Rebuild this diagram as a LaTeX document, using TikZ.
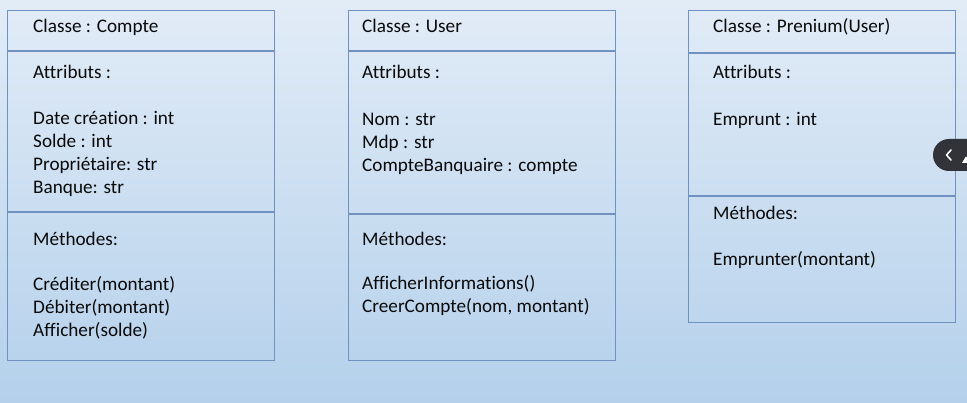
\documentclass[tikz,border=0pt]{standalone}
\usepackage{fontspec}
\setmainfont{Carlito}[Ligatures=NoCommon]
\usetikzlibrary{shapes.misc}
\definecolor{bgtop}{RGB}{226,236,247}
\definecolor{bgbot}{RGB}{180,208,235}
\definecolor{boxline}{RGB}{112,146,192}
\definecolor{btn}{RGB}{49,51,56}
\definecolor{txt}{RGB}{10,10,10}
\tikzset{
  classbox/.style={draw=boxline, line width=1.2pt, anchor=north west, inner sep=0pt, fill=none},
  sepline/.style={draw=boxline, line width=1.1pt},
  lbl/.style={anchor=base west, inner sep=0pt, text=txt, font=\fontsize{19.2}{23}\selectfont},
}
\begin{document}
\begin{tikzpicture}[x=1pt,y=-1pt]
\shade[top color=bgtop, bottom color=bgbot] (0,0) rectangle (967,403);
\useasboundingbox (0,0) rectangle (967,403);

% Box 1 : Compte
\node[classbox, minimum width=267pt, minimum height=350pt] (compte) at (7,10) {};
\coordinate (c1l) at (7,51); \coordinate (c1r) at (274,51);
\coordinate (c2l) at (7,212); \coordinate (c2r) at (274,212);
\draw[sepline] (c1l) -- (c1r);
\draw[sepline] (c2l) -- (c2r);
\node[lbl] (t11) at (33,32.5) {Classe : Compte};
\node[lbl] (t12) at (33,79) {Attributs :};
\node[lbl] (t13) at (33,125) {Date création : int};
\node[lbl] (t14) at (33,148) {Solde : int};
\node[lbl] (t15) at (33,171) {Propriétaire: str};
\node[lbl] (t16) at (33,194) {Banque: str};
\node[lbl] (t17) at (33,246) {Méthodes:};
\node[lbl] (t18) at (33,291) {Créditer(montant)};
\node[lbl] (t19) at (33,314) {Débiter(montant)};
\node[lbl] (t110) at (33,337) {Afficher(solde)};

% Box 2 : User
\node[classbox, minimum width=267pt, minimum height=350pt] (user) at (348,10) {};
\coordinate (u1l) at (348,51); \coordinate (u1r) at (615,51);
\coordinate (u2l) at (348,214); \coordinate (u2r) at (615,214);
\draw[sepline] (u1l) -- (u1r);
\draw[sepline] (u2l) -- (u2r);
\node[lbl] (t21) at (362,32.5) {Classe : User};
\node[lbl] (t22) at (362,79) {Attributs :};
\node[lbl] (t23) at (362,126) {Nom : str};
\node[lbl] (t24) at (362,149) {Mdp : str};
\node[lbl] (t25) at (362,172) {CompteBanquaire : compte};
\node[lbl] (t26) at (362,246) {Méthodes:};
\node[lbl] (t27) at (362,290) {AfficherInformations()};
\node[lbl] (t28) at (362,313) {CreerCompte(nom, montant)};

% Box 3 : Prenium
\node[classbox, minimum width=267pt, minimum height=312pt] (prenium) at (688,10) {};
\coordinate (p1l) at (688,53); \coordinate (p1r) at (955,53);
\coordinate (p2l) at (688,196); \coordinate (p2r) at (955,196);
\draw[sepline] (p1l) -- (p1r);
\draw[sepline] (p2l) -- (p2r);
\node[lbl] (t31) at (713,32.5) {Classe : Prenium(User)};
\node[lbl] (t32) at (713,79) {Attributs :};
\node[lbl] (t33) at (713,126) {Emprunt : int};
\node[lbl] (t34) at (713,220) {Méthodes:};
\node[lbl] (t35) at (713,266) {Emprunter(montant)};

% overlay button
\fill[btn, rounded corners=16pt] (933,139) rectangle (990,171);
\coordinate (chv1) at (951,150); \coordinate (chv2) at (946.5,155); \coordinate (chv3) at (951,160);
\draw[white, line width=1.6pt, line cap=round, line join=round] (chv1) -- (chv2) -- (chv3);
\fill[white] (962,163) -- (965.5,157) -- (968,157) -- (968,163) -- cycle;
\end{tikzpicture}
\end{document}
